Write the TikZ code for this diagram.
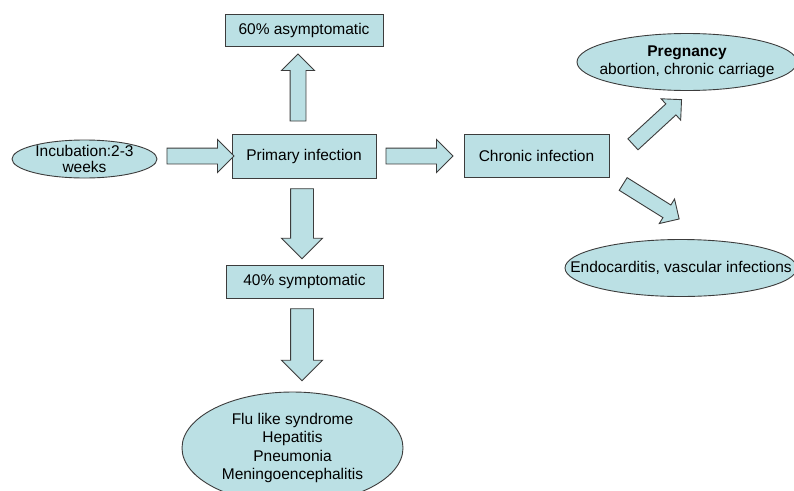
\documentclass[tikz,border=0pt]{standalone}
\usepackage{fontspec}
\setmainfont{Liberation Sans}
\usetikzlibrary{shapes.geometric,shapes.arrows}

\definecolor{boxfill}{RGB}{187,224,228}
\definecolor{boxline}{RGB}{60,60,60}

\begin{document}
\begin{tikzpicture}[x=1pt,y=-1pt,
  every node/.style={font=\fontsize{15.5}{18.5}\selectfont, inner sep=0pt},
  box/.style={draw=boxline, fill=boxfill, line width=0.9pt, rectangle},
  oval/.style={draw=boxline, fill=boxfill, line width=0.9pt, ellipse},
  ovaltext/.style={label={[align=center]center:#1}},
  fatarrow/.style={draw=boxline, fill=boxfill, line width=0.9pt, single arrow,
    inner xsep=0pt, inner ysep=7.5pt, single arrow head extend=8.5pt},
  widearrow/.style={fatarrow, inner ysep=11pt, single arrow head extend=9pt},
  slimarrow/.style={fatarrow, inner ysep=7pt, single arrow head extend=7pt}]
\useasboundingbox (0,0) rectangle (794,490);
\clip (0,0) rectangle (794,490);
\fill[white] (0,0) rectangle (794,490);
% boxes and ovals
\node[oval, minimum width=145pt, minimum height=38pt,
  ovaltext={Incubation:2-3\\[-2pt]weeks}] (incub) at (84.5,159) {};
\node[box, minimum width=144pt, minimum height=44pt] (prim) at (304,156) {Primary infection};
\node[box, minimum width=158pt, minimum height=32pt] (asym) at (304,30) {60\% asymptomatic};
\node[box, minimum width=157pt, minimum height=33pt] (sympt) at (304.5,281.5) {40\% symptomatic};
\node[box, minimum width=145pt, minimum height=43pt] (chron) at (536.5,155.5) {Chronic infection};
\node[oval, minimum width=221pt, minimum height=112pt,
  ovaltext={Flu like syndrome\\Hepatitis\\Pneumonia\\Meningoencephalitis}] (flu) at (292.5,448) {};
\node[oval, minimum width=220pt, minimum height=57pt,
  ovaltext={\textbf{Pregnancy}\\abortion, chronic carriage}] (preg) at (687,62) {};
\node[oval, minimum width=232pt, minimum height=57pt,
  ovaltext={Endocarditis, vascular infections}] (endo) at (681,268) {};
% block arrows
\node[fatarrow, minimum height=67pt] (a1) at (196.5,156) {};
\node[fatarrow, minimum height=67pt] (a2) at (415.5,156) {};
\node[fatarrow, minimum height=67pt, rotate=90] (a3) at (298,91.5) {};
\node[widearrow, minimum height=70pt, rotate=-90] (a4) at (302,218) {};
\node[widearrow, minimum height=72pt, rotate=-90] (a5) at (302,339) {};
\node[slimarrow, minimum height=66pt, rotate=42.6] (a6) at (654.5,124.5) {};
\node[slimarrow, minimum height=66pt, rotate=-32] (a7) at (648,199.5) {};
\end{tikzpicture}
\end{document}
